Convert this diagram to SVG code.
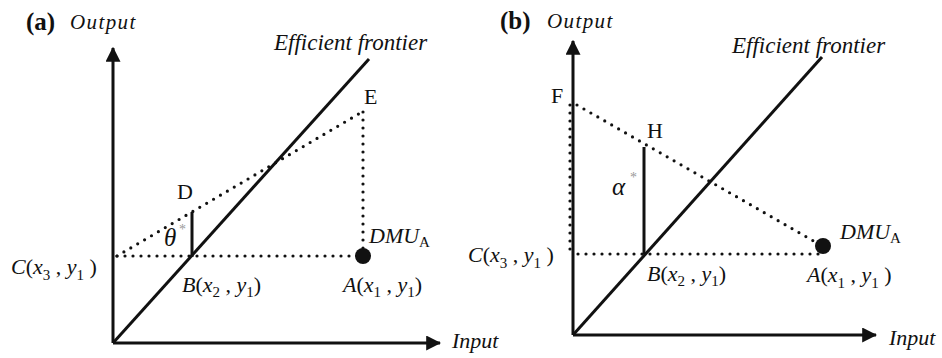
<svg xmlns="http://www.w3.org/2000/svg" width="942" height="358" viewBox="0 0 942 358" font-family="'Liberation Serif', 'DejaVu Serif', serif">
<style>
text{font-family:'Liberation Serif','DejaVu Serif',serif;fill:#111;font-size:22px}
.i{font-style:italic}
.b{font-weight:bold;font-size:25px}
.out{font-style:italic;font-size:21px;letter-spacing:1.4px}
.ef{font-style:italic;font-size:23px}
.g{font-style:italic;font-size:25px}
.sub{font-size:15px;font-style:normal}
.ax{stroke:#111;stroke-width:3;fill:none}
.dot{stroke:#111;stroke-width:3.2;stroke-linecap:round;stroke-dasharray:0 8;fill:none}
.star{fill:#999;font-size:14px}
</style>
<defs>
<marker id="ah" markerWidth="5" markerHeight="5" refX="4.6" refY="2.5" orient="auto" markerUnits="strokeWidth">
<path d="M0,0 L5,2.5 L0,5 Z" fill="#111"/>
</marker>
</defs>
<g id="connectors">
<path class="ax" d="M113,343 V48" marker-end="url(#ah)"/>
<path class="ax" d="M113,343 H440" marker-end="url(#ah)"/>
<path class="ax" d="M113,343 L369,59"/>
<path class="dot" d="M117,256 L362,112"/>
<path class="dot" d="M363,112 V256"/>
<path class="dot" d="M117,256 H362"/>
<path class="ax" d="M192,212 V257"/>
<path class="ax" d="M573,335 V41" marker-end="url(#ah)"/>
<path class="ax" d="M573,335 H876" marker-end="url(#ah)"/>
<path class="ax" d="M573,335 L822,57"/>
<path class="dot" d="M577,105 L817,243"/>
<path class="dot" d="M570,105 V254"/>
<path class="dot" d="M578,254 H820"/>
<path class="ax" d="M644,147 V254"/>
</g>
<g id="panel-a-labels">
<text x="26" y="30" class="b">(a)</text>
<text x="70" y="29" class="out">Output</text>
<text x="274" y="50" class="ef">Efficient frontier</text>
<text x="452" y="348" class="i">Input</text>
</g>
<g id="node-E"><text x="364" y="104">E</text></g>
<g id="node-D"><text x="177" y="199">D</text></g>
<g id="node-theta"><text x="164" y="246" class="g">θ</text><text x="179" y="234" class="star">*</text></g>
<g id="node-A-a">
<circle cx="363" cy="256" r="8" fill="#111"/>
<text x="369" y="243" class="i">DMU<tspan class="sub" dy="4">A</tspan></text>
<text x="343" y="292"><tspan class="i">A</tspan>(<tspan class="i">x</tspan><tspan class="sub" dy="5">1</tspan><tspan dy="-5"> , </tspan><tspan class="i">y</tspan><tspan class="sub" dy="5">1</tspan><tspan dy="-5">)</tspan></text>
</g>
<g id="node-B-a">
<text x="182" y="292"><tspan class="i">B</tspan>(<tspan class="i">x</tspan><tspan class="sub" dy="5">2</tspan><tspan dy="-5"> , </tspan><tspan class="i">y</tspan><tspan class="sub" dy="5">1</tspan><tspan dy="-5">)</tspan></text>
</g>
<g id="node-C-a">
<text x="11" y="274"><tspan class="i">C</tspan>(<tspan class="i">x</tspan><tspan class="sub" dy="6">3</tspan><tspan dy="-6"> , </tspan><tspan class="i">y</tspan><tspan class="sub" dy="6">1</tspan><tspan dy="-6"> )</tspan></text>
</g>
<g id="panel-b-labels">
<text x="500" y="29" class="b">(b)</text>
<text x="547" y="28" class="out">Output</text>
<text x="732" y="53" class="ef">Efficient frontier</text>
<text x="889" y="345" class="i">Input</text>
</g>
<g id="node-F"><text x="551" y="103">F</text></g>
<g id="node-H"><text x="647" y="138">H</text></g>
<g id="node-alpha"><text x="612" y="195" class="g">α</text><text x="630" y="182" class="star">*</text></g>
<g id="node-A-b">
<circle cx="823" cy="246" r="8" fill="#111"/>
<text x="840" y="239" class="i">DMU<tspan class="sub" dy="4">A</tspan></text>
<text x="807" y="282"><tspan class="i">A</tspan>(<tspan class="i">x</tspan><tspan class="sub" dy="6">1</tspan><tspan dy="-6"> , </tspan><tspan class="i">y</tspan><tspan class="sub" dy="6">1</tspan><tspan dy="-6"> )</tspan></text>
</g>
<g id="node-B-b">
<text x="647" y="281"><tspan class="i">B</tspan>(<tspan class="i">x</tspan><tspan class="sub" dy="5">2</tspan><tspan dy="-5"> , </tspan><tspan class="i">y</tspan><tspan class="sub" dy="5">1</tspan><tspan dy="-5">)</tspan></text>
</g>
<g id="node-C-b">
<text x="468" y="262"><tspan class="i">C</tspan>(<tspan class="i">x</tspan><tspan class="sub" dy="6">3</tspan><tspan dy="-6"> , </tspan><tspan class="i">y</tspan><tspan class="sub" dy="6">1</tspan><tspan dy="-6"> )</tspan></text>
</g>
</svg>
